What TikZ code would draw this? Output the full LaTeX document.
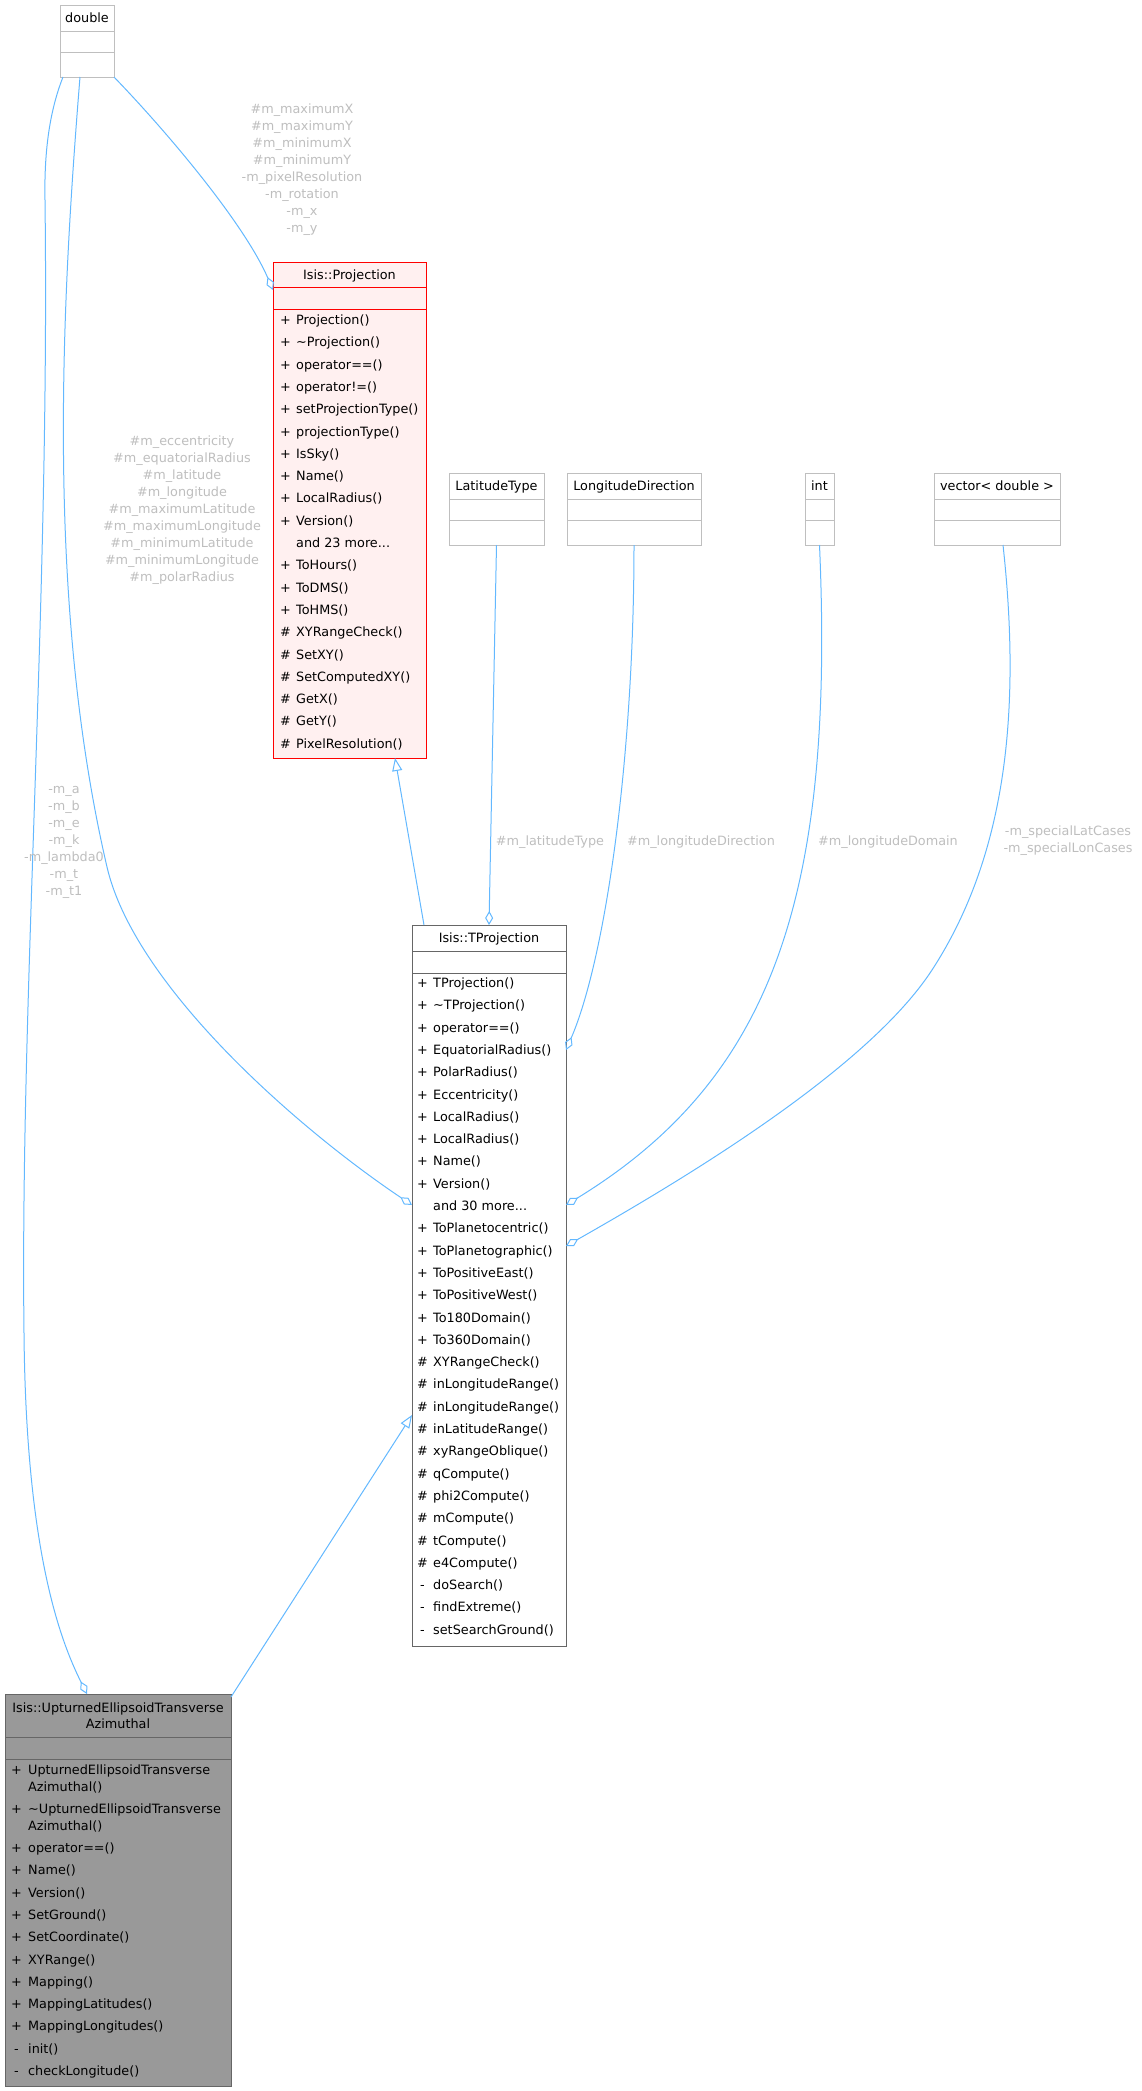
\documentclass[tikz,border=0pt]{standalone}
\usepackage{fontspec}
\setmainfont{DejaVu Sans}
\usepackage{tikz}
\usetikzlibrary{arrows.meta}

\definecolor{edgeblue}{HTML}{63B8FF}
\definecolor{lblgrey}{HTML}{BEBEBE}
\definecolor{extgrey}{HTML}{BFBFBF}
\definecolor{boxgrey}{HTML}{666666}
\definecolor{projfill}{HTML}{FFF0F0}
\definecolor{curfill}{HTML}{999999}

\tikzset{
  classbox/.style={anchor=north west, inner sep=0pt, outer sep=0pt, line width=1pt},
  extbox/.style={classbox, draw=extgrey, fill=white, minimum height=72pt},
  classtitle/.style={anchor=base, inner sep=0pt, font=\fontsize{12.8}{16}\selectfont},
  membertext/.style={anchor=base west, inner sep=0pt, font=\fontsize{12.8}{16}\selectfont},
  membersign/.style={anchor=base, inner sep=0pt, font=\fontsize{12.8}{16}\selectfont},
  elabel/.style={text=lblgrey, align=center, inner sep=0pt, font=\fontsize{12.8}{17}\selectfont},
  assoc/.style={edgeblue, line width=1pt, -{Diamond[open, length=14pt, width=8pt]}},
  inherit/.style={edgeblue, line width=1pt, -{Triangle[open, length=13pt, width=10pt]}}
}

\begin{document}
\begin{tikzpicture}[x=1pt, y=-1pt]
\useasboundingbox (0,0) rectangle (1141,2091);

    \node[extbox, minimum width=54pt] (double) at (60,5) {};
    \draw[extgrey, line width=1pt] (60,31) -- (114,31) (60,52) -- (114,52);
    \node[classtitle] (doublet) at (87,22.5) {double};

    \node[extbox, minimum width=95pt] (lat) at (449,473) {};
    \node[extbox, minimum width=134pt] (londir) at (567,473) {};
    \node[extbox, minimum width=29pt] (int) at (805,473) {};
    \node[extbox, minimum width=126pt] (vec) at (934,473) {};
    \foreach \l/\r in {449/544, 567/701, 805/834, 934/1060}
        \draw[extgrey, line width=1pt] (\l,499) -- (\r,499) (\l,520) -- (\r,520);
    \node[classtitle] (latt) at (496.5,490.5) {LatitudeType};
    \node[classtitle] (londirt) at (634,490.5) {LongitudeDirection};
    \node[classtitle] (intt) at (819.5,490.5) {int};
    \node[classtitle] (vect) at (997,490.5) {vector< double >};

    \node[classbox, draw=red, fill=projfill, minimum width=153pt, minimum height=496pt] (proj) at (273,262) {};
    \draw[red, line width=1pt] (273,287) -- (426,287) (273,309) -- (426,309);
    \node[classtitle] (projt) at (349.5,279) {Isis::Projection};
    \foreach \s/\m [count=\i from 0] in {+/Projection(), +/\textasciitilde Projection(), +/operator==(),
        +/operator!=(), +/setProjectionType(), +/projectionType(), +/IsSky(), +/Name(),
        +/LocalRadius(), +/Version(), {}/{and 23 more.{}.{}.}, +/ToHours(), +/ToDMS(), +/ToHMS(),
        \#/XYRangeCheck(), \#/SetXY(), \#/SetComputedXY(), \#/GetX(), \#/GetY(), \#/PixelResolution()} {
        \node[membersign] (projs\i) at (285.5,324.5+22.3*\i) {\s};
        \node[membertext] (projm\i) at (296,324.5+22.3*\i) {\m};
    }

    \node[classbox, draw=boxgrey, fill=white, minimum width=154pt, minimum height=721pt] (tproj) at (412,925) {};
    \draw[boxgrey, line width=1pt] (412,951) -- (566,951) (412,973) -- (566,973);
    \node[classtitle] (tprojt) at (489,942.5) {Isis::TProjection};
    \foreach \s/\m [count=\i from 0] in {+/TProjection(), +/\textasciitilde TProjection(), +/operator==(),
        +/EquatorialRadius(), +/PolarRadius(), +/Eccentricity(), +/LocalRadius(), +/LocalRadius(),
        +/Name(), +/Version(), {}/{and 30 more.{}.{}.}, +/ToPlanetocentric(), +/ToPlanetographic(),
        +/ToPositiveEast(), +/ToPositiveWest(), +/To180Domain(), +/To360Domain(),
        \#/XYRangeCheck(), \#/inLongitudeRange(), \#/inLongitudeRange(), \#/inLatitudeRange(),
        \#/xyRangeOblique(), \#/qCompute(), \#/phi2Compute(), \#/mCompute(), \#/tCompute(),
        \#/e4Compute(), -/doSearch(), -/findExtreme(), -/setSearchGround()} {
        \node[membersign] (tprojs\i) at (422.5,987.5+22.3*\i) {\s};
        \node[membertext] (tprojm\i) at (433,987.5+22.3*\i) {\m};
    }

    \node[classbox, draw=boxgrey, fill=curfill, minimum width=226pt, minimum height=392pt] (upt) at (5,1694) {};
    \draw[boxgrey, line width=1pt] (5,1737) -- (231,1737) (5,1759) -- (231,1759);
    \node[classtitle] (uptt1) at (118,1712.5) {Isis::UpturnedEllipsoidTransverse};
    \node[classtitle] (uptt2) at (118,1728.5) {Azimuthal};
    \node[membersign] (upta) at (16.5,1774.5) {+};
    \node[membertext] (uptb) at (28,1774.5) {UpturnedEllipsoidTransverse};
    \node[membertext] (uptc) at (28,1791.5) {Azimuthal()};
    \node[membersign] (uptd) at (16.5,1813.5) {+};
    \node[membertext] (upte) at (28,1813.5) {\textasciitilde UpturnedEllipsoidTransverse};
    \node[membertext] (uptf) at (28,1830.5) {Azimuthal()};
    \foreach \s/\m [count=\i from 0] in {+/operator==(), +/Name(), +/Version(), +/SetGround(),
        +/SetCoordinate(), +/XYRange(), +/Mapping(), +/MappingLatitudes(), +/MappingLongitudes(),
        -/init(), -/checkLongitude()} {
        \node[membersign] (upts\i) at (16.5,1852.5+22.3*\i) {\s};
        \node[membertext] (uptm\i) at (28,1852.5+22.3*\i) {\m};
    }

    \draw[assoc] (double.south east) .. controls (170,135) and (245,225) .. ([yshift=-28pt]proj.north west);
    \draw[assoc] ([xshift=-7pt]double.south) .. controls (62,300) and (45,600) .. (107,867)
        .. controls (135,987) and (300,1130) .. ([yshift=-280pt]tproj.north west);
    \draw[assoc] ([xshift=3pt]double.south west) .. controls (50,110) and (44,150) .. (45,200)
        .. controls (50,600) and (20,1000) .. (24,1333)
        .. controls (26,1550) and (60,1640) .. ([xshift=82pt]upt.north west);
    \draw[inherit] ([xshift=12pt]tproj.north west) -- ([xshift=-31pt]proj.south east);
    \draw[assoc] (lat.south) -- (tproj.north);
    \draw[assoc] (londir.south) .. controls (634,760) and (605,960) .. ([yshift=-125pt]tproj.north east);
    \draw[assoc] (int.south) .. controls (835,900) and (770,1080) .. ([yshift=-280pt]tproj.north east);
    \draw[assoc] ([xshift=6pt]vec.south) .. controls (1020,700) and (1010,850) .. (932,970)
        .. controls (870,1065) and (700,1170) .. ([yshift=-321pt]tproj.north east);
    \draw[inherit] ([yshift=-3pt]upt.north east) -- ([yshift=-490pt]tproj.north west);

    \node[elabel] (lblproj) at (302,170) {\#m\_maximumX\\\#m\_maximumY\\\#m\_minimumX\\\#m\_minimumY\\-m\_pixelResolution\\-m\_rotation\\-m\_x\\-m\_y};
    \node[elabel] (lbltproj) at (182,510) {\#m\_eccentricity\\\#m\_equatorialRadius\\\#m\_latitude\\\#m\_longitude\\\#m\_maximumLatitude\\\#m\_maximumLongitude\\\#m\_minimumLatitude\\\#m\_minimumLongitude\\\#m\_polarRadius};
    \node[elabel] (lblupt) at (64,842) {-m\_a\\-m\_b\\-m\_e\\-m\_k\\-m\_lambda0\\-m\_t\\-m\_t1};
    \node[elabel] (lbllat) at (550,842) {\#m\_latitudeType};
    \node[elabel] (lbldir) at (701,842) {\#m\_longitudeDirection};
    \node[elabel] (lbldom) at (888,842) {\#m\_longitudeDomain};
    \node[elabel] (lblspec) at (1068,841) {-m\_specialLatCases\\-m\_specialLonCases};

\end{tikzpicture}
\end{document}
